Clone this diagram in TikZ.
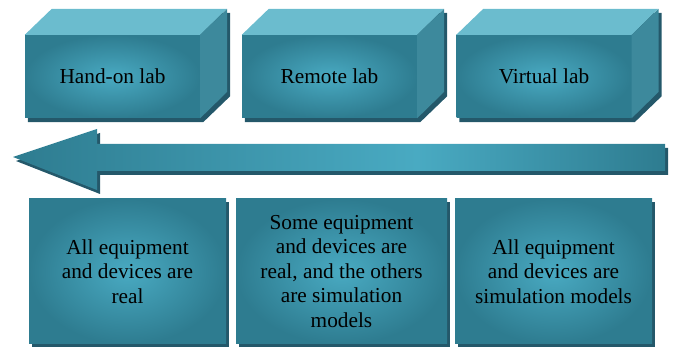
\documentclass[tikz,border=0pt]{standalone}
\usepackage{fontspec}
\setmainfont{Liberation Serif}
\newfontfamily\labfont{Liberation Serif}
\usetikzlibrary{calc,positioning,backgrounds}

\definecolor{topface}{HTML}{6BBCCE}
\definecolor{sideface}{HTML}{3D899C}
\definecolor{faceedge}{HTML}{2E7C90}
\definecolor{facecentre}{HTML}{49AAC2}
\definecolor{shadowc}{HTML}{24586A}
\pgfdeclarehorizontalshading{arrowshade}{100bp}{color(0bp)=(faceedge); color(25bp)=(faceedge); color(56bp)=(facecentre); color(75bp)=(faceedge); color(100bp)=(faceedge)}

\tikzset{
  face/.style={rectangle, inner sep=0pt, inner color=facecentre, outer color=faceedge,
    text=black, align=center, font=\labfont\fontsize{21.3}{24.5}\selectfont},
  labbox/.style={face, minimum width=175pt, minimum height=83pt},
  notebox/.style={face, minimum width=197pt, minimum height=145pt},
}

\begin{document}
\begin{tikzpicture}[x=1pt,y=1pt]
\useasboundingbox (0,0) rectangle (673,347);
\def\dx{27}
\def\dy{26}

% the three kinds of lab
\foreach \name/\x/\txt in {hand/112.5/Hand-on lab, remote/329.5/Remote lab, virtual/544/Virtual lab} {
	\node[labbox] (\name) at (\x,270.5) {\txt};
	\fill[topface] (\name.north west) -- ++(\dx,\dy) -- ++(175,0) -- (\name.north east) -- cycle;
	\fill[sideface] (\name.north east) -- ++(\dx,\dy) -- ++(0,-83) -- (\name.south east) -- cycle;
	\begin{scope}[on background layer]
	\fill[shadowc] ($(\name.south west)+(3,-4)$) -- ($(\name.north west)+(3,-4)$)
		-- ($(\name.north west)+(\dx+3,\dy-4)$) -- ($(\name.north east)+(\dx+3,\dy-4)$)
		-- ($(\name.south east)+(\dx+3,\dy-4)$) -- ($(\name.south east)+(3,-4)$) -- cycle;
	\end{scope}
}

% arrow
\fill[shadowc,shift={(3,-4)}] (13,190) -- (97,218) -- (97,203) -- (665,203) -- (665,176) -- (97,176) -- (97,157) -- cycle;
\shade[shading=arrowshade]
	(13,190) -- (97,218) -- (97,203) -- (665,203) -- (665,176) -- (97,176) -- (97,157) -- cycle;

% what each lab is made of
\node[notebox] (real) at (127.5,75.5) {All equipment\\and devices are\\real};
\node[notebox,minimum width=211pt] (mixed) at (341.5,75.5) {Some equipment\\and devices are\\real, and the others\\are simulation\\models};
\node[notebox] (sim) at (553.5,75.5) {All equipment\\and devices are\\simulation models};
\begin{scope}[on background layer]
\foreach \name in {real,mixed,sim} {
	\fill[shadowc] ($(\name.south west)+(3,-3)$) rectangle ($(\name.north east)+(3,-3)$);
}
\end{scope}

\end{tikzpicture}
\end{document}
